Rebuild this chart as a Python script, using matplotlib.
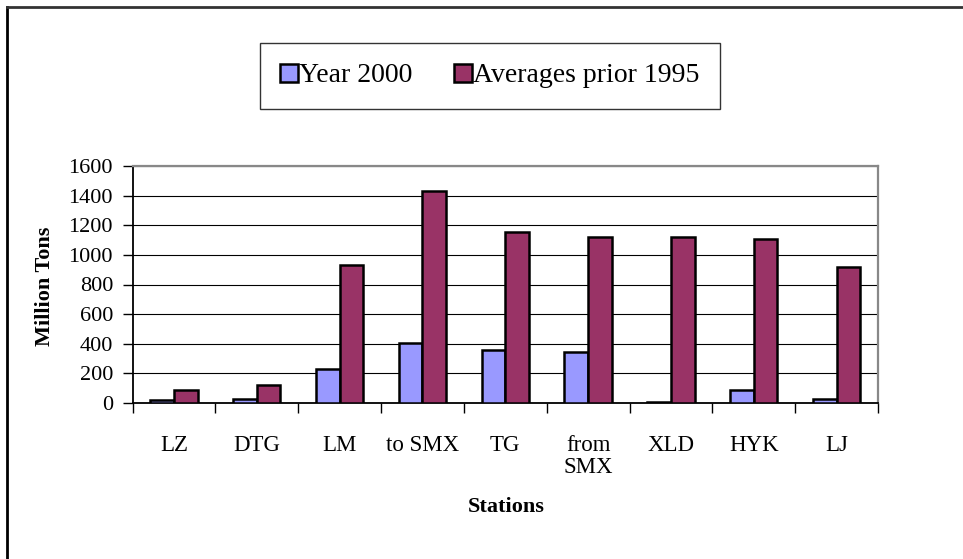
import matplotlib
matplotlib.use("Agg")
import matplotlib.pyplot as plt
import numpy as np
from matplotlib.lines import Line2D
from matplotlib.ticker import FixedLocator

plt.rcParams['font.family'] = ['Liberation Serif', 'DejaVu Serif']

stations = ["LZ", "DTG", "LM", "to SMX", "TG", "from\nSMX", "XLD", "HYK", "LJ"]
year_2000 = [22, 28, 227, 405, 359, 341, 5, 85, 25]
avg_prior_1995 = [90, 123, 932, 1434, 1157, 1121, 1121, 1108, 921]
series_names = ["Year 2000", "Averages prior 1995"]
y_ticks = [0, 200, 400, 600, 800, 1000, 1200, 1400, 1600]

W, H = 963, 559
fig = plt.figure(figsize=(W / 100, H / 100), dpi=100)
ax = fig.add_axes([132.5 / W, 1 - 403 / H, (878 - 132.5) / W, (403 - 166) / H])

x = np.arange(len(stations))
w = 0.285
ax.bar(x - w / 2, year_2000, w, color="#9999FF", edgecolor="black", linewidth=1.8,
       label=series_names[0], zorder=3)
ax.bar(x + w / 2, avg_prior_1995, w, color="#993366", edgecolor="black", linewidth=1.8,
       label=series_names[1], zorder=3)

ax.set_xlim(-0.5, len(stations) - 0.5)
ax.set_ylim(0, 1600)
ax.yaxis.set_major_locator(FixedLocator(y_ticks))
ax.set_yticklabels([str(v) for v in y_ticks], fontsize=16)
ax.yaxis.grid(True, color="black", linewidth=0.8, zorder=0)
ax.set_axisbelow(True)

ax.set_xticks(x)
ax.set_xticklabels(stations, fontsize=16.5, va="top", linespacing=1.05)
ax.xaxis.set_minor_locator(FixedLocator(np.arange(-0.5, len(stations), 1.0)))
ax.tick_params(axis="x", which="major", length=0, pad=23)
ax.tick_params(axis="x", which="minor", length=7, width=1, direction="out", color="black")
ax.tick_params(axis="y", which="major", length=7, width=1, direction="out", pad=7)

for s in ["left", "bottom"]:
    ax.spines[s].set_color("black")
    ax.spines[s].set_linewidth(1.3)
for s in ["top", "right"]:
    ax.spines[s].set_color("#888888")
    ax.spines[s].set_linewidth(1.6)

fig.text(506 / W, 1 - 507 / H, "Stations", fontsize=16, fontweight="bold",
         ha="center", va="center")
fig.text(45 / W, 1 - 286 / H, "Million Tons", fontsize=16, fontweight="bold",
         ha="center", va="center", rotation=90)

leg = fig.legend(loc="center", bbox_to_anchor=(490 / W, 1 - 76 / H), ncol=2, fontsize=20,
                 frameon=True, fancybox=False, shadow=False, edgecolor="black",
                 handlelength=0.62, handleheight=0.62, handletextpad=0.06,
                 columnspacing=1.5, borderpad=0.75, borderaxespad=0)
leg.get_frame().set_linewidth(1.0)

fig.add_artist(Line2D([6.5 / W, 6.5 / W], [0, 1 - 6.5 / H], color="black", linewidth=2))
fig.add_artist(Line2D([6.5 / W, 1], [1 - 6.5 / H, 1 - 6.5 / H], color="#333333", linewidth=2))

fig.savefig("out.png", dpi=100)
